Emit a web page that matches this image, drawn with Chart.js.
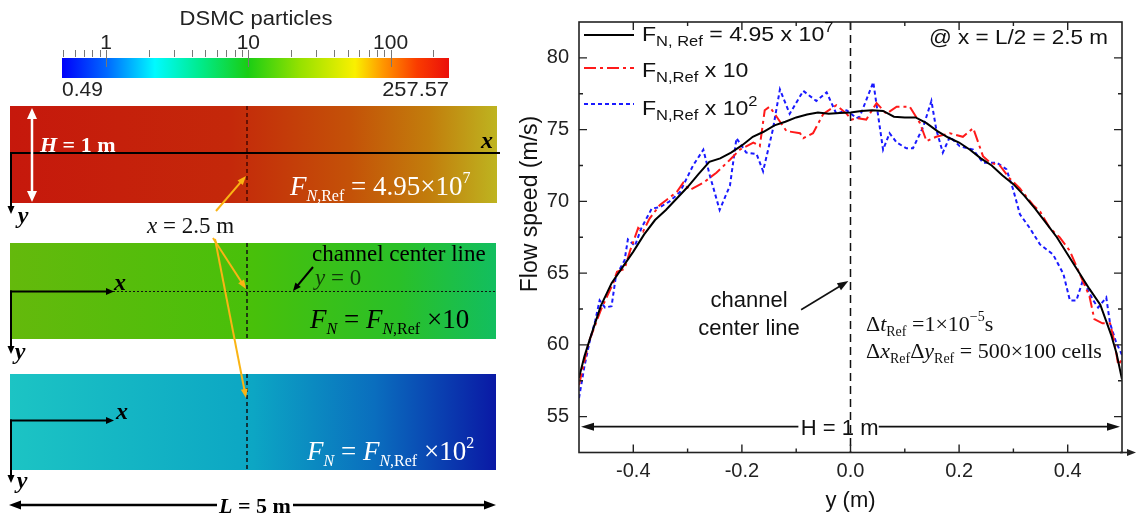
<!DOCTYPE html>
<html>
<head>
<meta charset="utf-8">
<script src="https://cdn.jsdelivr.net/npm/chart.js@4.4.1/dist/chart.umd.min.js"></script>
<style>
  body { margin: 0; width: 1136px; height: 516px; position: relative; background: #fff; overflow: hidden; }
  #sketch { position: absolute; left: 0; top: 0; }
  #flowChart { position: absolute; left: 510px; top: 0; }
</style>
</head>
<body>
<canvas id="sketch" width="510" height="516"></canvas>
<canvas id="flowChart" width="626" height="516"></canvas>
<script>
// ---- data ----
// y position across the channel (m) and flow speed (m/s)
const refY = [-0.5, -0.49, -0.48, -0.46, -0.44, -0.42, -0.40, -0.38, -0.36, -0.34, -0.32, -0.30, -0.28, -0.26, -0.24, -0.22,
  -0.20, -0.18, -0.16, -0.14, -0.12, -0.10, -0.08, -0.06, -0.04, -0.02, 0.00, 0.02, 0.04, 0.06, 0.08, 0.10, 0.12, 0.14,
  0.16, 0.18, 0.20, 0.22, 0.24, 0.26, 0.28, 0.30, 0.32, 0.34, 0.36, 0.38, 0.40, 0.42, 0.44, 0.46, 0.48, 0.49, 0.50];
const refSpeed = [57.7, 59.2, 60.4, 62.7, 64.3, 65.4, 66.5, 67.7, 68.7, 69.4, 70.2, 71.0, 71.9, 72.75, 73.0, 73.4,
  73.9, 74.5, 74.85, 75.3, 75.55, 75.85, 76.05, 76.2, 76.1, 76.15, 76.2, 76.3, 76.35, 76.3, 75.9, 75.85, 75.85, 75.45,
  74.9, 74.45, 74.1, 73.6, 73.0, 72.5, 71.8, 71.2, 70.4, 69.5, 68.5, 67.5, 66.3, 65.1, 63.9, 62.8, 60.7, 59.4, 57.6];

// F_N,Ref x 10
const x10Y = [-0.5, -0.482, -0.459, -0.437, -0.43, -0.416, -0.406, -0.391, -0.382, -0.37, -0.351, -0.339, -0.32, -0.308,
  -0.296, -0.271, -0.247, -0.222, -0.204, -0.179, -0.167, -0.158, -0.149, -0.136, -0.118, -0.093, -0.087, -0.069, -0.05,
  -0.026, -0.007, 0.002, 0.011, 0.029, 0.048, 0.066, 0.085, 0.109, 0.128, 0.14, 0.158, 0.183, 0.207, 0.226, 0.244, 0.257,
  0.275, 0.293, 0.312, 0.336, 0.349, 0.367, 0.385, 0.404, 0.422, 0.44, 0.449, 0.464, 0.478, 0.486, 0.493, 0.5];
const x10Speed = [57.2, 60.2, 62.5, 64.3, 65.1, 65.3, 66.55, 68.15, 67.9, 68.8, 69.75, 70.1, 70.65, 71.3,
  70.8, 71.3, 72.0, 72.9, 73.6, 74.1, 73.85, 76.35, 76.6, 75.9, 74.9, 74.75, 74.4, 74.75, 76.1,
  76.7, 76.1, 75.7, 75.8, 75.7, 76.85, 76.1, 76.6, 76.6, 75.45, 74.2, 74.5, 74.75, 74.5, 75.1, 73.15, 72.7,
  72.5, 71.6, 70.9, 69.75, 69.3, 68.15, 67.5, 66.55, 64.95, 63.4, 61.8, 61.5, 61.5, 60.2, 58.6, 59.0];

// F_N,Ref x 10^2
const x100Y = [-0.5, -0.49, -0.48, -0.47, -0.462, -0.452, -0.44, -0.432, -0.416, -0.41, -0.397, -0.385, -0.366, -0.351,
  -0.333, -0.314, -0.29, -0.271, -0.259, -0.241, -0.222, -0.21, -0.192, -0.173, -0.161, -0.143, -0.13, -0.112, -0.087,
  -0.063, -0.044, -0.026, -0.007, 0.011, 0.017, 0.042, 0.06, 0.072, 0.085, 0.103, 0.115, 0.134, 0.149, 0.158, 0.17,
  0.183, 0.201, 0.226, 0.244, 0.269, 0.287, 0.299, 0.312, 0.33, 0.349, 0.373, 0.392, 0.404, 0.416, 0.428, 0.447,
  0.456, 0.471, 0.478, 0.489, 0.5];
const x100Speed = [56.3, 58.5, 60.3, 61.7, 63.1, 62.6, 62.7, 64.8, 65.9, 67.35, 66.9, 68.15, 69.5, 69.6,
  70.0, 70.65, 72.5, 73.6, 71.8, 69.4, 71.1, 74.4, 73.4, 73.3, 72.1, 75.0, 77.8, 76.1, 77.7,
  77.0, 77.6, 76.1, 76.35, 75.8, 75.9, 78.3, 73.6, 74.75, 74.1, 73.7, 73.7, 75.2, 77.0, 75.0, 73.4,
  74.5, 73.85, 73.6, 72.7, 72.7, 72.25, 70.9, 69.1, 68.15, 67.0, 66.3, 64.95, 63.1, 63.1, 64.5, 63.1,
  62.6, 63.3, 61.5, 60.2, 59.3];

// axis settings and tick labels
const xMin = -0.5, xMax = 0.5;
const yMin = 52.5, yMax = 82.5;
const xTicks = [-0.4, -0.2, 0.0, 0.2, 0.4];
const yTicks = [55, 60, 65, 70, 75, 80];

// colour bar range (DSMC particles, log scale)
const barMin = 0.49, barMax = 257.57;
const barMajor = [1, 10, 100];
const barMinor = [0.5, 0.6, 0.7, 0.8, 0.9, 2, 3, 4, 5, 6, 7, 8, 9, 20, 30, 40, 50, 60, 70, 80, 90, 200];

const SANS = '"Liberation Sans", Arial, sans-serif';
const SERIF = '"Liberation Serif", "Times New Roman", serif';

// draw a run of text pieces [text, font, dy] one after another
function rich(ctx, x, y, parts, color, align, sx) {
  sx = sx || 1;
  ctx.save();
  ctx.fillStyle = color;
  ctx.textAlign = 'left';
  ctx.textBaseline = 'alphabetic';
  let w = 0;
  for (const p of parts) { ctx.font = p[1]; w += ctx.measureText(p[0]).width; }
  let start = x;
  if (align === 'right') start = x - w * sx;
  if (align === 'center') start = x - w * sx / 2;
  ctx.translate(start, y);
  ctx.scale(sx, 1);
  let cx = 0;
  for (const p of parts) {
    ctx.font = p[1];
    ctx.fillText(p[0], cx, p[2] || 0);
    cx += ctx.measureText(p[0]).width;
  }
  ctx.restore();
}

function arrow(ctx, x1, y1, x2, y2, color, width, len, half, both) {
  const a = Math.atan2(y2 - y1, x2 - x1);
  const c = Math.cos(a), s = Math.sin(a);
  ctx.save();
  ctx.strokeStyle = color;
  ctx.fillStyle = color;
  ctx.lineWidth = width;
  ctx.setLineDash([]);
  ctx.beginPath();
  ctx.moveTo(both ? x1 + c * len * 0.6 : x1, both ? y1 + s * len * 0.6 : y1);
  ctx.lineTo(x2 - c * len * 0.6, y2 - s * len * 0.6);
  ctx.stroke();
  const head = (tx, ty, dc, ds) => {
    ctx.beginPath();
    ctx.moveTo(tx, ty);
    ctx.lineTo(tx - dc * len - ds * half, ty - ds * len + dc * half);
    ctx.lineTo(tx - dc * len + ds * half, ty - ds * len - dc * half);
    ctx.closePath();
    ctx.fill();
  };
  head(x2, y2, c, s);
  if (both) head(x1, y1, -c, -s);
  ctx.restore();
}

// ---------------- left panel: colour bar and the three channels ----------------
function drawSketch() {
  const g = document.getElementById('sketch').getContext('2d');
  const bl = 62, br = 449, bt = 58, bb = 78;
  const lmin = Math.log10(barMin), lmax = Math.log10(barMax);
  const barX = v => bl + (br - bl) * (Math.log10(v) - lmin) / (lmax - lmin);

  // jet-like colour bar
  const jet = g.createLinearGradient(bl, 0, br, 0);
  jet.addColorStop(0, 'rgb(0,0,250)');
  jet.addColorStop(0.116, 'rgb(0,105,255)');
  jet.addColorStop(0.24, 'rgb(0,250,255)');
  jet.addColorStop(0.357, 'rgb(0,235,140)');
  jet.addColorStop(0.48, 'rgb(25,205,20)');
  jet.addColorStop(0.615, 'rgb(150,225,0)');
  jet.addColorStop(0.757, 'rgb(250,240,0)');
  jet.addColorStop(0.83, 'rgb(255,150,0)');
  jet.addColorStop(0.917, 'rgb(250,60,0)');
  jet.addColorStop(1, 'rgb(235,15,10)');
  g.fillStyle = jet;
  g.fillRect(bl, bt, br - bl, bb - bt);

  g.strokeStyle = '#777';
  g.lineWidth = 1;
  for (const v of barMinor) {
    const x = Math.round(barX(v)) + 0.5;
    g.beginPath(); g.moveTo(x, 50); g.lineTo(x, 57); g.stroke();
  }
  for (const v of barMajor) {
    const x = Math.round(barX(v)) + 0.5;
    g.beginPath(); g.moveTo(x, 50); g.lineTo(x, 67); g.stroke();
    rich(g, barX(v), 49, [[String(v), '21px ' + SANS]], '#222', 'center');
  }
  rich(g, 256, 25, [['DSMC particles', '20px ' + SANS]], '#222', 'center', 1.1);
  rich(g, 62, 96, [['0.49', '20px ' + SANS]], '#222', 'left', 1.05);
  rich(g, 449, 96, [['257.57', '21px ' + SANS]], '#222', 'right', 1.04);

  // channels
  const ch1 = g.createLinearGradient(10, 0, 497, 0);
  ch1.addColorStop(0, 'rgb(198,24,12)');
  ch1.addColorStop(0.45, 'rgb(196,40,10)');
  ch1.addColorStop(0.7, 'rgb(196,82,8)');
  ch1.addColorStop(0.86, 'rgb(194,125,12)');
  ch1.addColorStop(1, 'rgb(190,180,32)');
  g.fillStyle = ch1;
  g.fillRect(10, 106, 487, 97);

  const ch2 = g.createLinearGradient(10, 0, 496, 0);
  ch2.addColorStop(0, 'rgb(100,185,12)');
  ch2.addColorStop(0.5, 'rgb(72,192,10)');
  ch2.addColorStop(0.8, 'rgb(42,192,40)');
  ch2.addColorStop(1, 'rgb(18,190,95)');
  g.fillStyle = ch2;
  g.fillRect(10, 243, 486, 96);

  const ch3 = g.createLinearGradient(10, 0, 496, 0);
  ch3.addColorStop(0, 'rgb(28,196,196)');
  ch3.addColorStop(0.5, 'rgb(12,166,196)');
  ch3.addColorStop(0.75, 'rgb(10,110,190)');
  ch3.addColorStop(1, 'rgb(10,25,165)');
  g.fillStyle = ch3;
  g.fillRect(10, 374, 486, 96);

  // x = 2.5 m dashed lines
  g.save();
  g.lineWidth = 1.5;
  g.setLineDash([4, 3]);
  g.strokeStyle = 'rgba(50,0,0,0.85)';
  g.beginPath(); g.moveTo(247, 106); g.lineTo(247, 203); g.stroke();
  g.strokeStyle = '#111';
  g.beginPath(); g.moveTo(247, 243); g.lineTo(247, 339); g.stroke();
  g.beginPath(); g.moveTo(247, 374); g.lineTo(247, 470); g.stroke();
  // channel centre line (dotted)
  g.lineWidth = 1;
  g.setLineDash([2, 2]);
  g.beginPath(); g.moveTo(113, 291.5); g.lineTo(496, 291.5); g.stroke();
  g.restore();

  // axes in the channels
  g.save();
  g.strokeStyle = '#000';
  g.lineWidth = 2;
  g.beginPath(); g.moveTo(11, 153); g.lineTo(500, 153); g.stroke();
  g.restore();
  arrow(g, 11, 152, 11, 214, '#000', 2, 8, 3.5);
  arrow(g, 10, 291.5, 114, 291.5, '#000', 2, 8, 3.5);
  arrow(g, 11, 290.5, 11, 354, '#000', 2, 8, 3.5);
  arrow(g, 10, 420.5, 114, 420.5, '#000', 2, 8, 3.5);
  arrow(g, 11, 419.5, 11, 483, '#000', 2, 8, 3.5);

  const axisFont = 'italic bold 24px ' + SERIF;
  rich(g, 487, 148, [['x', axisFont]], '#000', 'center');
  rich(g, 23, 223, [['y', axisFont]], '#000', 'center');
  rich(g, 120, 290, [['x', axisFont]], '#000', 'center');
  rich(g, 20, 359, [['y', axisFont]], '#000', 'center');
  rich(g, 122, 419, [['x', axisFont]], '#000', 'center');
  rich(g, 22, 488, [['y', axisFont]], '#000', 'center');

  // H = 1 m
  arrow(g, 32, 108, 32, 202, '#fff', 2.5, 11, 5, true);
  rich(g, 40, 152, [['H', 'italic bold 22px ' + SERIF], [' = 1 m', 'bold 22px ' + SERIF]], '#fff', 'left');

  // F_N labels
  const big = '27px ' + SERIF, bigI = 'italic 27px ' + SERIF;
  const sub = '16px ' + SERIF, subI = 'italic 16px ' + SERIF;
  rich(g, 290, 195, [['F', bigI], ['N', subI, 6], [',Ref', sub, 6], [' = 4.95\u00d710', big], ['7', sub, -12]], '#fff', 'left');
  rich(g, 310, 328, [['F', bigI], ['N', subI, 6], [' = ', big], ['F', bigI], ['N', subI, 6], [',Ref', sub, 6], [' \u00d710', big]], '#000', 'left');
  rich(g, 307, 460, [['F', bigI], ['N', subI, 6], [' = ', big], ['F', bigI], ['N', subI, 6], [',Ref', sub, 6], [' \u00d710', big], ['2', sub, -12]], '#fff', 'left');

  // annotations
  rich(g, 147, 233, [['x', 'italic 23px ' + SERIF], [' = 2.5 m', '23px ' + SERIF]], '#111', 'left');
  const orange = 'rgb(250,180,20)';
  arrow(g, 216, 211, 246, 176, orange, 2, 9, 3.5);
  arrow(g, 213, 238, 246, 289, orange, 2, 9, 3.5);
  arrow(g, 215, 239, 246, 398, orange, 2, 9, 3.5);

  rich(g, 312, 261, [['channel center line', '23px ' + SERIF]], '#000', 'left');
  rich(g, 315, 285, [['y', 'italic 23px ' + SERIF], [' = 0', '23px ' + SERIF]], 'rgba(0,0,0,0.7)', 'left');
  arrow(g, 313, 267, 293, 291, '#000', 2, 8, 3.5);

  // L = 5 m
  arrow(g, 217, 505, 9, 505, '#000', 2.5, 12, 4.5);
  arrow(g, 293, 505, 496, 505, '#000', 2.5, 12, 4.5);
  rich(g, 255, 513, [['L', 'italic bold 22px ' + SERIF], [' = 5 m', 'bold 22px ' + SERIF]], '#000', 'center');
}

// ---------------- right panel: Chart.js ----------------
const pairs = (xs, vs) => xs.map((x, i) => ({ x: x, y: vs[i] }));

const legendItems = [
  { color: '#000', dash: [], parts: [['F', 'L'], ['N, Ref', 'S'], [' = 4.95 x 10', 'L'], ['7', 'P']] },
  { color: '#ff1a1a', dash: [12, 4, 3, 4], parts: [['F', 'L'], ['N,Ref', 'S'], [' x 10', 'L']] },
  { color: '#1a1aff', dash: [4, 3], parts: [['F', 'L'], ['N,Ref', 'S'], [' x 10', 'L'], ['2', 'P']] }
];

const notesPlugin = {
  id: 'notes',
  afterDraw(chart) {
    const ctx = chart.ctx;
    const xs = chart.scales.x, ys = chart.scales.y;
    const { left, right, top, bottom } = chart.chartArea;
    ctx.save();

    // centre line y = 0
    ctx.strokeStyle = '#111';
    ctx.lineWidth = 1.5;
    ctx.setLineDash([8, 5]);
    const x0 = xs.getPixelForValue(0);
    ctx.beginPath(); ctx.moveTo(x0, top); ctx.lineTo(x0, bottom); ctx.stroke();
    ctx.setLineDash([]);

    // frame
    ctx.strokeStyle = '#222';
    ctx.lineWidth = 1.6;
    ctx.strokeRect(left, top, right - left, bottom - top);

    // inward ticks on all four sides
    const xMaj = xs.ticks.map(t => t.value);
    const yMaj = ys.ticks.map(t => t.value);
    const mids = a => a.slice(1).map((v, i) => (v + a[i]) / 2);
    ctx.lineWidth = 1.4;
    ctx.beginPath();
    for (const [vals, len] of [[xMaj, 8], [mids(xMaj), 4]]) {
      for (const v of vals) {
        const px = xs.getPixelForValue(v);
        ctx.moveTo(px, bottom); ctx.lineTo(px, bottom - len);
        ctx.moveTo(px, top); ctx.lineTo(px, top + len);
      }
    }
    for (const [vals, len] of [[yMaj, 8], [mids(yMaj), 4]]) {
      for (const v of vals) {
        const py = ys.getPixelForValue(v);
        ctx.moveTo(left, py); ctx.lineTo(left + len, py);
        ctx.moveTo(right, py); ctx.lineTo(right - len, py);
      }
    }
    ctx.stroke();
    arrow(ctx, right - 2, bottom, chart.width, bottom, '#222', 1.6, 9, 3.5);

    // legend
    const fonts = { L: '21px ' + SANS, S: '15px ' + SANS, P: '15px ' + SANS };
    const shifts = { L: 0, S: 5, P: -9 };
    const rows = [[35, 41], [68, 77], [104, 115]];
    legendItems.forEach((item, i) => {
      ctx.strokeStyle = item.color;
      ctx.lineWidth = 2.2;
      ctx.setLineDash(item.dash);
      ctx.beginPath();
      ctx.moveTo(left + 5, rows[i][0]); ctx.lineTo(left + 55, rows[i][0]);
      ctx.stroke();
      ctx.setLineDash([]);
      rich(ctx, left + 63, rows[i][1], item.parts.map(p => [p[0], fonts[p[1]], shifts[p[1]]]), '#111', 'left', 1.1);
    });
    rich(ctx, right - 14, 44, [['@ x = L/2 = 2.5 m', '21px ' + SANS]], '#111', 'right', 1.07);

    // channel center line note
    rich(ctx, 239, 307, [['channel', '22px ' + SANS]], '#111', 'center');
    rich(ctx, 239, 335, [['center line', '22px ' + SANS]], '#111', 'center');
    arrow(ctx, xs.getPixelForValue(-0.091), ys.getPixelForValue(62.45),
      xs.getPixelForValue(-0.004), ys.getPixelForValue(64.45), '#111', 1.6, 11, 4);

    // simulation settings
    const sf = '22px ' + SERIF, sfi = 'italic 22px ' + SERIF, ss = '14px ' + SERIF;
    rich(ctx, 356, 331, [['\u0394', sf], ['t', sfi], ['Ref', ss, 5], [' =1\u00d710', sf], ['\u22125', ss, -10], ['s', sf]], '#111', 'left');
    rich(ctx, 356, 358, [['\u0394', sf], ['x', sfi], ['Ref', ss, 5], ['\u0394', sf], ['y', sfi], ['Ref', ss, 5],
      [' = 500\u00d7100 cells', sf]], '#111', 'left');

    // H = 1 m across the channel
    const hy = ys.getPixelForValue(54.3);
    const hx = xs.getPixelForValue(-0.02);
    arrow(ctx, xs.getPixelForValue(-0.096), hy, left + 2, hy, '#111', 1.6, 13, 4);
    arrow(ctx, xs.getPixelForValue(0.052), hy, right - 2, hy, '#111', 1.6, 13, 4);
    rich(ctx, hx, hy + 8, [['H = 1 m', '22px ' + SANS]], '#111', 'center');

    // y axis title
    ctx.translate(19, 204);
    ctx.rotate(-Math.PI / 2);
    rich(ctx, 0, 8, [['Flow speed (m/s)', '23px ' + SANS]], '#111', 'center');
    ctx.restore();
  }
};

const tickFont = { family: '"Liberation Sans", Arial, sans-serif', size: 20 };

new Chart(document.getElementById('flowChart'), {
  type: 'line',
  data: {
    datasets: [
      { label: 'F_N,Ref = 4.95 x 10^7', data: pairs(refY, refSpeed), borderColor: '#000', borderWidth: 2, pointRadius: 0, tension: 0 },
      { label: 'F_N,Ref x 10', data: pairs(x10Y, x10Speed), borderColor: '#ff1a1a', borderWidth: 2, borderDash: [12, 4, 3, 4], pointRadius: 0, tension: 0 },
      { label: 'F_N,Ref x 10^2', data: pairs(x100Y, x100Speed), borderColor: '#1a1aff', borderWidth: 2, borderDash: [4, 3], pointRadius: 0, tension: 0 }
    ]
  },
  options: {
    responsive: false,
    animation: false,
    devicePixelRatio: 1,
    layout: { padding: { top: 13, right: 14, left: 0, bottom: 0 } },
    plugins: { legend: { display: false }, tooltip: { enabled: false } },
    scales: {
      x: {
        type: 'linear', min: xMin, max: xMax,
        grid: { display: false, drawTicks: false },
        border: { display: false },
        ticks: { padding: 7, color: '#222', font: tickFont, callback: v => v.toFixed(1) },
        afterBuildTicks: s => { s.ticks = xTicks.map(v => ({ value: v })); },
        title: { display: true, text: 'y (m)', color: '#111', font: { family: tickFont.family, size: 22 }, padding: { top: 0, bottom: 2 } },
        afterFit: s => { s.height = 63.5; }
      },
      y: {
        type: 'linear', min: yMin, max: yMax,
        grid: { display: false, drawTicks: false },
        border: { display: false },
        ticks: { padding: 10, color: '#222', font: tickFont },
        afterBuildTicks: s => { s.ticks = yTicks.map(v => ({ value: v })); },
        afterFit: s => { s.width = 69; }
      }
    }
  },
  plugins: [notesPlugin]
});

drawSketch();
</script>
</body>
</html>
